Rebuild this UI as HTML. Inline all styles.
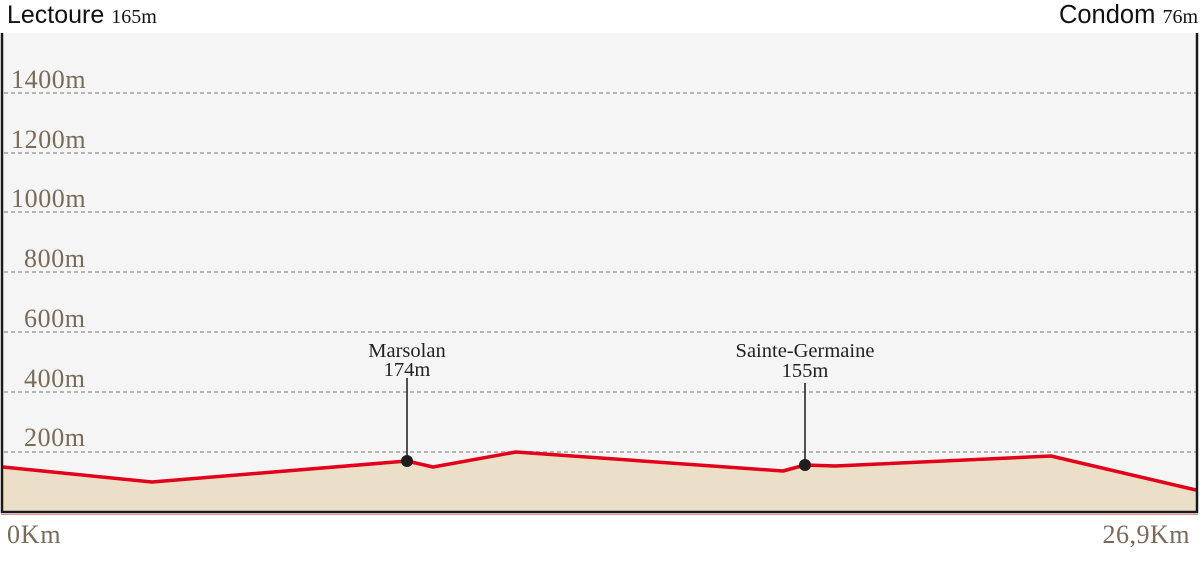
<!DOCTYPE html>
<html>
<head>
<meta charset="utf-8">
<style>
html,body{margin:0;padding:0;background:#fff;}
body{width:1200px;height:561px;overflow:hidden;}
svg{display:block;}
.serif{font-family:"Liberation Serif",serif;}
.sans{font-family:"Liberation Sans",sans-serif;}
</style>
</head>
<body>
<svg width="1200" height="561" viewBox="0 0 1200 561" xmlns="http://www.w3.org/2000/svg">
  <!-- plot background -->
  <rect x="3" y="33" width="1194" height="479" fill="#f5f5f5"/>
  <!-- grid -->
  <g stroke="#b5b5b5" stroke-width="2" stroke-dasharray="4,3">
    <line x1="4" y1="93" x2="1196" y2="93"/>
    <line x1="4" y1="153" x2="1196" y2="153"/>
    <line x1="4" y1="212" x2="1196" y2="212"/>
    <line x1="4" y1="272" x2="1196" y2="272"/>
    <line x1="4" y1="332" x2="1196" y2="332"/>
    <line x1="4" y1="392" x2="1196" y2="392"/>
    <line x1="4" y1="452" x2="1196" y2="452"/>
  </g>
  <!-- y labels -->
  <g class="serif" font-size="26" fill="#7a6a58" letter-spacing="0.6">
    <text x="11" y="88">1400m</text>
    <text x="11" y="148">1200m</text>
    <text x="11" y="207">1000m</text>
    <text x="24" y="267">800m</text>
    <text x="24" y="327">600m</text>
    <text x="24" y="387">400m</text>
    <text x="24" y="446">200m</text>
  </g>
  <!-- profile fill -->
  <polygon points="3,467 152,482 407,461 433,467 516,452 783,471 805,465 835,466 1051,456 1196,490 1196,512 3,512" fill="#ecdfc7"/>
  <polyline points="3,467 152,482 407,461 433,467 516,452 783,471 805,465 835,466 1051,456 1196,490" fill="none" stroke="#e2001a" stroke-width="3.5" stroke-linejoin="round"/>
  <!-- borders -->
  <line x1="2" y1="33" x2="2" y2="513" stroke="#1a1a1a" stroke-width="2.5"/>
  <line x1="1197" y1="33" x2="1197" y2="513" stroke="#1a1a1a" stroke-width="2.5"/>
  <line x1="1" y1="512" x2="1198" y2="512" stroke="#1a1a1a" stroke-width="2.5"/>
  <line x1="1" y1="514.5" x2="1198" y2="514.5" stroke="#e88" stroke-width="1"/>
  <!-- markers -->
  <line x1="407" y1="378" x2="407" y2="461" stroke="#1a1a1a" stroke-width="1.5"/>
  <circle cx="407" cy="461" r="6" fill="#1e1e1e"/>
  <line x1="805" y1="383" x2="805" y2="465" stroke="#1a1a1a" stroke-width="1.5"/>
  <circle cx="805" cy="465" r="6" fill="#1e1e1e"/>
  <g class="serif" font-size="20.5" fill="#222" text-anchor="middle">
    <text x="407" y="357">Marsolan</text>
    <text x="407" y="376">174m</text>
    <text x="805" y="357">Sainte-Germaine</text>
    <text x="805" y="377">155m</text>
  </g>
  <!-- titles -->
  <text x="7" y="23" class="sans" font-size="25" fill="#111">Lectoure <tspan class="serif" font-size="20">165m</tspan></text>
  <text x="1198" y="23" class="sans" font-size="25.5" fill="#111" text-anchor="end">Condom <tspan class="serif" font-size="20">76m</tspan></text>
  <!-- x labels -->
  <text x="7" y="543" class="serif" font-size="26" fill="#7a6a58" letter-spacing="0.8">0Km</text>
  <text x="1190" y="543" class="serif" font-size="26" fill="#7a6a58" text-anchor="end" letter-spacing="0.5">26,9Km</text>
</svg>
</body>
</html>
